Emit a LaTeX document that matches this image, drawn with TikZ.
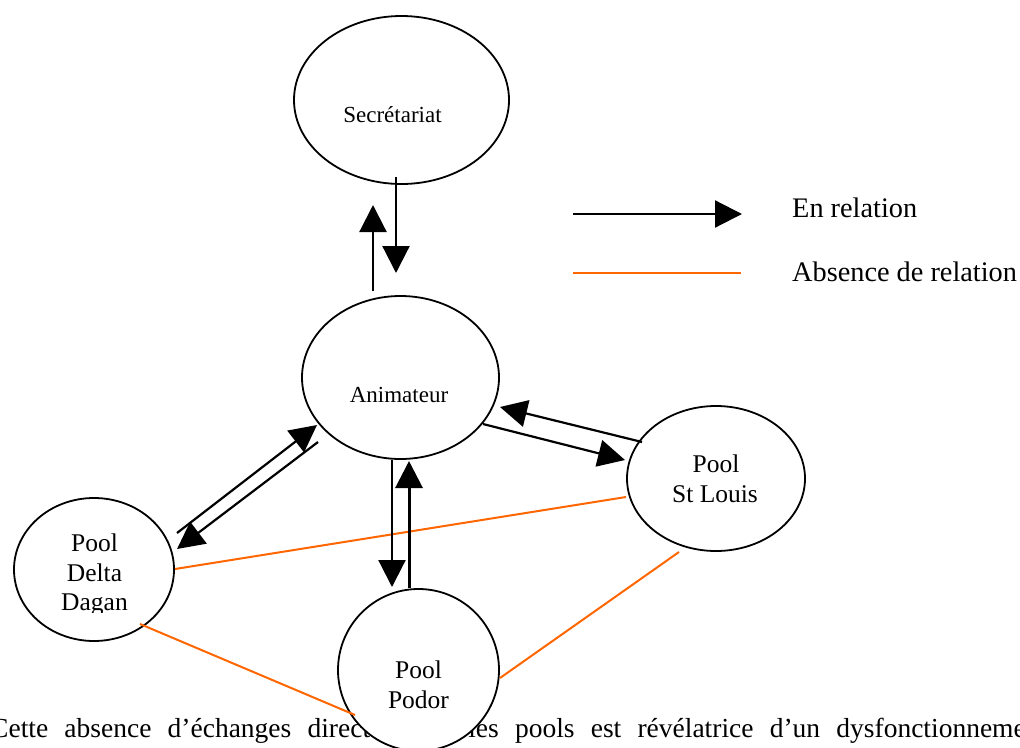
\documentclass[tikz,border=0pt]{standalone}
\usepackage{fontspec}
\setmainfont{Liberation Serif}
\usetikzlibrary{arrows.meta,shapes.geometric,calc}
\definecolor{norelcolor}{RGB}{255,102,0}
\begin{document}
\begin{tikzpicture}[x=1pt,y=-1pt,
  bubble/.style={ellipse, draw, line width=1.8pt, inner sep=0pt},
  rel/.style={line width=2.2pt, -{Triangle[length=27pt,width=27pt]}},
  norel/.style={line width=2pt, draw=norelcolor},
  lbl/.style={anchor=base, inner sep=0pt, font=\fontsize{25.5}{30}\selectfont},
  smalllbl/.style={anchor=base, inner sep=0pt, font=\fontsize{23}{27}\selectfont},
  legendtxt/.style={anchor=base west, inner sep=0pt, font=\fontsize{28.3}{33}\selectfont},
  bodytxt/.style={anchor=base west, inner sep=0pt, font=\fontsize{27.5}{32}\selectfont}]

\useasboundingbox (0,0) rectangle (1020,747);
\clip (0,0) rectangle (1020,747);

% running text of the page, partly hidden by the Podor bubble
\node[bodytxt] (para) at (-10,737)
  {\spaceskip=16.2pt Cette absence d’échanges directs entre les pools est révélatrice d’un dysfonctionnement};

% bubbles
\node[bubble, minimum width=215pt, minimum height=168pt] (sec) at (401.5,100) {};
\node[bubble, minimum width=197pt, minimum height=163pt] (ani) at (400.5,377.5) {};
\node[bubble, minimum width=178pt, minimum height=145pt] (stl) at (716,478.5) {};
\node[bubble, minimum width=160pt, minimum height=143pt] (dlt) at (94,569.5) {};
\node[bubble, fill=white, minimum width=161pt, minimum height=162pt] (pdr) at (418.5,670) {};

% bubble texts
\node[smalllbl] (sec-t) at (392.5,122.5) {Secrétariat};
\node[smalllbl] (ani-t) at (399,402.5) {Animateur};
\node[lbl] (stl-t1) at (716,472) {Pool};
\node[lbl] (stl-t2) at (715,502) {St Louis};
\begin{scope}
  \clip (0,480) rectangle (200,612);
  \node[lbl] (dlt-t1) at (94.5,551) {Pool};
  \node[lbl] (dlt-t2) at (94.5,581) {Delta};
  \node[lbl] (dlt-t3) at (94.5,610.5) {Dagan};
\end{scope}
\node[lbl] (pdr-t1) at (418.5,678) {Pool};
\node[lbl] (pdr-t2) at (418.5,708) {Podor};

% missing relations
\draw[norel] ($(dlt)+(81,-0.5)$) -- ($(stl)+(-90,18.5)$);
\draw[norel] ($(dlt)+(46,54.5)$) -- ($(pdr)+(-63.5,45)$);
\draw[norel] ($(stl)+(-37,73.5)$) -- ($(pdr)+(81.5,8)$);

% existing relations
\draw[rel] ($(sec)+(-5.5,77)$) -- ($(ani)+(-4.5,-104.5)$);
\draw[rel] ($(ani)+(-27.5,-86.5)$) -- ($(sec)+(-28.5,105)$);
\draw[rel] ($(dlt)+(83,-36.5)$) -- ($(ani)+(-83.5,47.5)$);
\draw[rel] ($(ani)+(-82.5,64.5)$) -- ($(dlt)+(83,-20.5)$);
\draw[rel] ($(stl)+(-74,-36.5)$) -- ($(ani)+(99.5,29.5)$);
\draw[rel] ($(ani)+(82.5,46.5)$) -- ($(stl)+(-91,-18.5)$);
\draw[rel] ($(ani)+(-8.5,82.5)$) -- ($(pdr)+(-26.5,-83)$);
\draw[rel, line width=3pt] ($(pdr)+(-9.5,-82)$) -- ($(ani)+(8.5,83.5)$);

% legend
\coordinate (key1a) at (573,214);
\coordinate (key1b) at (742,214);
\coordinate (key2a) at (573,273);
\coordinate (key2b) at (741,273);
\draw[rel] (key1a) -- (key1b);
\draw[norel] (key2a) -- (key2b);
\node[legendtxt] (key1-t) at (792,217) {En relation};
\node[legendtxt] (key2-t) at (792,281) {Absence de relation};
\end{tikzpicture}
\end{document}
